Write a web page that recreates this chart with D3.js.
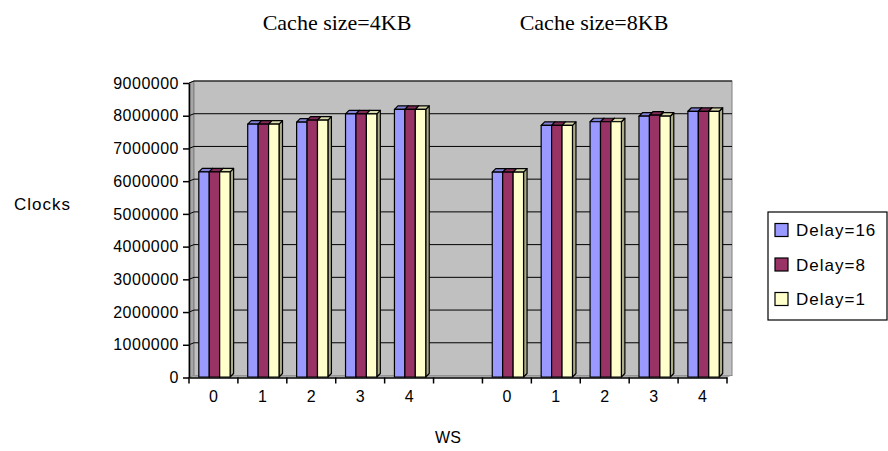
<!DOCTYPE html>
<html>
<head>
<script src="https://d3js.org/d3.v7.min.js"></script>
<style>
body { margin: 0; background: #fff; }
</style>
</head>
<body>
<svg width="888" height="451"></svg>
<script>
// category labels (one blank slot separates the two cache sizes)
var categories = ["0", "1", "2", "3", "4", "", "0", "1", "2", "3", "4"];
var seriesNames = ["Delay=16", "Delay=8", "Delay=1"];
var delay16 = [6270000, 7730000, 7790000, 8040000, 8180000, null, 6260000, 7690000, 7800000, 7970000, 8120000];
var delay8  = [6270000, 7730000, 7850000, 8040000, 8180000, null, 6260000, 7690000, 7800000, 8000000, 8120000];
var delay1  = [6270000, 7730000, 7850000, 8040000, 8180000, null, 6260000, 7690000, 7800000, 7970000, 8120000];
var titles = ["Cache size=4KB", "Cache size=8KB"];
var yTicks = [0, 1000000, 2000000, 3000000, 4000000, 5000000, 6000000, 7000000, 8000000, 9000000];
var colors = ["#9999FF", "#993366", "#FFFFCC"];

var svg = d3.select("svg");
var x0 = 189, x1 = 727, yBase = 377.5, yTop = 83;
var wdx = 5, wdy = -2;      // back wall depth offset
var bdx = 3.5, bdy = -3.5;  // bar depth
var sans = "Liberation Sans, Arial, sans-serif";

var x = d3.scaleBand().domain(d3.range(categories.length)).range([x0, x1]).paddingInner(0);
var y = d3.scaleLinear().domain([0, 9000000]).range([yBase, yTop]);
var groupW = x.bandwidth() * 0.64;
var xs = d3.scaleBand().domain(seriesNames).range([0, groupW]);

/** walls and floor **/
svg.append("polygon")
  .attr("points", [[x0, yBase], [x0 + wdx, yBase + wdy], [x0 + wdx, yTop + wdy], [x0, yTop]].join(" "))
  .attr("fill", "#a6a6a6").attr("stroke", "#808080");
svg.append("rect")
  .attr("x", x0 + wdx).attr("y", yTop + wdy)
  .attr("width", x1 - x0).attr("height", yBase - yTop)
  .attr("fill", "#C0C0C0").attr("stroke", "#808080");
svg.append("polygon")
  .attr("points", [[x0, yBase], [x1, yBase], [x1 + wdx, yBase + wdy], [x0 + wdx, yBase + wdy]].join(" "))
  .attr("fill", "#a6a6a6");

// gridlines on the wall
svg.append("g").selectAll("polyline")
  .data(yTicks.slice(1))
  .enter().append("polyline")
  .attr("points", function(d) {
    return [[x0, y(d)], [x0 + wdx, y(d) + wdy], [x1 + wdx, y(d) + wdy]].join(" ");
  })
  .attr("fill", "none").attr("stroke", "#000").attr("stroke-width", 1);

/** bars **/
var series = [delay16, delay8, delay1];
var bars = [];
categories.forEach(function(c, i) {
  series.forEach(function(s, k) {
    if (s[i] != null) bars.push({i: i, k: k, v: s[i]});
  });
});
var off = (x.bandwidth() - groupW) / 2 + 1;

var bg = svg.append("g").attr("stroke", "#000").attr("stroke-width", 1.2).attr("stroke-linejoin", "round");
bars.forEach(function(d) {
  var bx = x(d.i) + off + xs(seriesNames[d.k]);
  var bw = xs.bandwidth();
  var top = y(d.v) - 0.5, bot = yBase - 0.5;
  var c = d3.color(colors[d.k]);
  // side
  bg.append("polygon")
    .attr("points", [[bx + bw, bot], [bx + bw + bdx, bot + bdy], [bx + bw + bdx, top + bdy], [bx + bw, top]].join(" "))
    .attr("fill", c.darker(1.1));
  // top
  bg.append("polygon")
    .attr("points", [[bx, top], [bx + bw, top], [bx + bw + bdx, top + bdy], [bx + bdx, top + bdy]].join(" "))
    .attr("fill", c.darker(0.45));
  // front
  bg.append("rect")
    .attr("x", bx).attr("y", top)
    .attr("width", bw).attr("height", bot - top)
    .attr("fill", colors[d.k]);
});

/** axes **/
var yaxis = d3.axisLeft(y).tickValues(yTicks).tickFormat(d3.format("d")).tickSize(6).tickSizeOuter(0);
var gy = svg.append("g").attr("transform", "translate(" + x0 + ",0)").call(yaxis);
gy.select(".domain").attr("stroke", "#000").attr("stroke-width", 1.5);
gy.selectAll("line").attr("stroke", "#000").attr("stroke-width", 1.5);
gy.selectAll("text")
  .attr("x", -10)
  .style("font-family", sans).style("letter-spacing", "0.5px")
  .style("font-size", "16px").attr("fill", "#000");

var xaxis = d3.axisBottom(x).tickFormat(function(i) { return categories[i]; }).tickSize(0).tickSizeOuter(0);
var gx = svg.append("g").attr("transform", "translate(0," + yBase + ")").call(xaxis);
gx.select(".domain").attr("stroke", "#000").attr("stroke-width", 1.5);
gx.selectAll("text")
  .attr("dy", "1.35em")
  .style("font-family", sans)
  .style("font-size", "16px").attr("fill", "#000");

// ticks on the band boundaries
svg.append("g").selectAll("line")
  .data(d3.range(categories.length + 1))
  .enter().append("line")
  .attr("x1", function(d) { return x0 + d * x.step(); })
  .attr("x2", function(d) { return x0 + d * x.step(); })
  .attr("y1", yBase).attr("y2", yBase + 6)
  .attr("stroke", "#000").attr("stroke-width", 1.5);

/** labels **/
svg.append("text").attr("x", 14).attr("y", 210)
  .style("font-family", sans).style("font-size", "17px").style("letter-spacing", "1px")
  .text("Clocks");
svg.append("text").attr("x", 448).attr("y", 443).attr("text-anchor", "middle")
  .style("font-family", sans).style("font-size", "16px")
  .text("WS");

svg.selectAll(".title").data(titles).enter().append("text")
  .attr("class", "title")
  .attr("x", function(d, i) { return [337, 594][i]; })
  .attr("y", 30)
  .attr("text-anchor", "middle")
  .style("font-family", "Liberation Serif, Times New Roman, serif").style("font-size", "22px")
  .text(function(d) { return d; });

/** legend **/
var lg = svg.append("g").attr("transform", "translate(768,212)");
lg.append("rect").attr("width", 119).attr("height", 108)
  .attr("fill", "#fff").attr("stroke", "#000").attr("stroke-width", 1.2);
var li = lg.selectAll(".item").data(seriesNames).enter().append("g")
  .attr("class", "item")
  .attr("transform", function(d, i) { return "translate(7," + (18 + i * 34.5) + ")"; });
li.append("rect").attr("y", -6.5).attr("width", 13).attr("height", 13)
  .attr("fill", function(d, i) { return colors[i]; })
  .attr("stroke", "#000").attr("stroke-width", 1.2);
li.append("text").attr("x", 21).attr("dy", "0.36em")
  .style("font-family", sans).style("font-size", "17px").style("letter-spacing", "1px")
  .text(function(d) { return d; });
</script>
</body>
</html>
